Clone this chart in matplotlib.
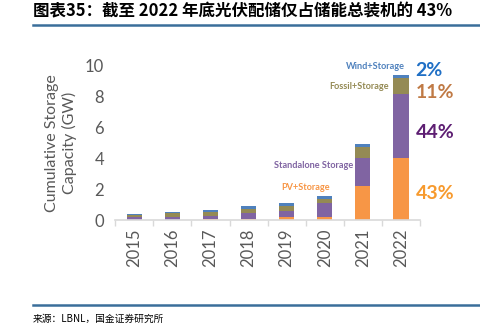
import numpy as np
import matplotlib
matplotlib.use('Agg')
import matplotlib.pyplot as plt

plt.rcParams['font.family'] = ['Lato', 'DejaVu Sans']

years = ['2015', '2016', '2017', '2018', '2019', '2020', '2021', '2022']
pv_storage = [0.02, 0.02, 0.04, 0.09, 0.17, 0.22, 2.21, 4.00]
standalone = [0.15, 0.19, 0.22, 0.35, 0.44, 0.86, 1.84, 4.18]
fossil = [0.13, 0.22, 0.26, 0.28, 0.30, 0.28, 0.71, 1.02]
wind = [0.07, 0.11, 0.13, 0.19, 0.17, 0.22, 0.20, 0.22]

series_names = ['PV+Storage', 'Standalone Storage', 'Fossil+Storage', 'Wind+Storage']
share_labels = ['43%', '44%', '11%', '2%']

bar_colors = ['#F79646', '#8064A2', '#948A54', '#4F81BD']
share_colors = ['#F79A2E', '#5E1F73', '#C07A45', '#1F6FC5']

title = '图表35：截至 2022 年底光伏配储仅占储能总装机的 43%'
source = '来源：LBNL，国金证券研究所'

fig = plt.figure(figsize=(4.8, 3.25), dpi=100)
ax = fig.add_axes([0.240, 0.323, 0.635, 0.474])

x = np.arange(len(years))
bottom = np.zeros(len(years))
for vals, col in zip([pv_storage, standalone, fossil, wind], bar_colors):
    ax.bar(x, vals, 0.4, bottom=bottom, color=col, zorder=2)
    bottom += np.array(vals)

ax.set_xlim(-0.5, 7.5)
ax.set_ylim(0, 10)
ax.set_yticks([0, 2, 4, 6, 8, 10])
ax.set_xticks(x)
ax.set_xticklabels(years, rotation=90)
ax.set_xticks(np.arange(-0.5, 8, 1), minor=True)
ax.tick_params(axis='x', which='major', length=0, pad=6, labelsize=12, colors='#595959')
ax.tick_params(axis='x', which='minor', length=4, color='#D9D9D9', width=1)
ax.tick_params(axis='y', length=0, labelsize=12, colors='#595959', pad=8)
for s in ['top', 'right', 'left']:
    ax.spines[s].set_visible(False)
ax.spines['bottom'].set_color('#D9D9D9')
ax.spines['bottom'].set_linewidth(1.2)
ax.set_ylabel('Cumulative Storage\nCapacity (GW)', fontsize=11.5, color='#595959', labelpad=6)

# series labels, right-aligned next to the bars
lab_pos = [(5.14, 2.14), (5.75, 3.57), (6.67, 8.64), (7.11, 9.94)]
for (lx, ly), name, col in zip(lab_pos, series_names, bar_colors):
    ax.text(lx, ly, name, color=col, fontsize=6.6, fontweight='bold',
            ha='right', va='center', clip_on=False)

# share labels at right of 2022 bar
share_y = [1.75, 5.68, 8.25, 9.7]
for sy, lab, col in zip(share_y, share_labels, share_colors):
    ax.text(7.38, sy, lab, color=col, fontsize=14, fontweight='bold',
            ha='left', va='center', clip_on=False)

# header and footer
fig.text(0.069, 0.965, title, fontsize=11.9, fontweight='bold', style='italic',
         family=['Noto Sans CJK SC', 'DejaVu Sans'], ha='left', va='center')
fig.add_artist(plt.Line2D([0.069, 1.0], [0.922, 0.922], color='#3A6E9A', lw=1.8))
fig.add_artist(plt.Line2D([0.069, 1.0], [0.062, 0.062], color='#3A6E9A', lw=1.8))
fig.text(0.069, 0.020, source, fontsize=7, family=['Noto Sans CJK SC', 'DejaVu Sans'],
         ha='left', va='center')

fig.savefig('out.png', dpi=100)
